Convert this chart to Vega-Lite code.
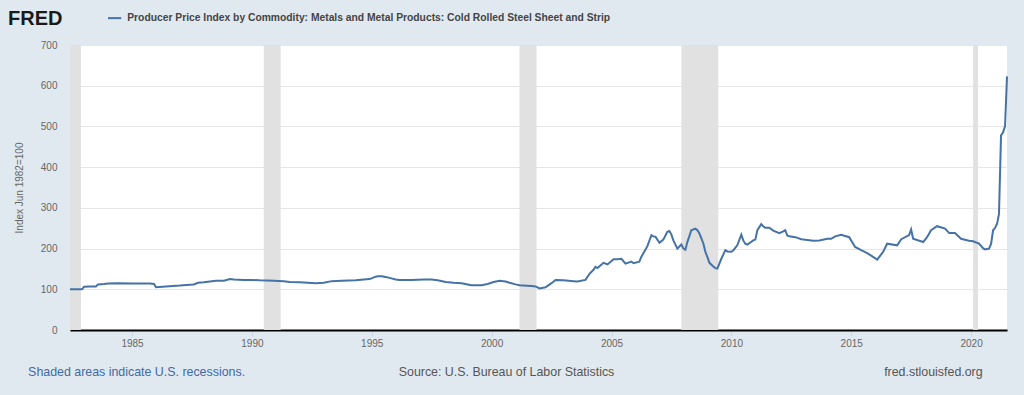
{
  "$schema": "https://vega.github.io/schema/vega-lite/v6.json",
  "width": 937,
  "height": 285,
  "autosize": {"type": "none"},
  "padding": {"left": 70, "top": 45, "right": 17, "bottom": 65},
  "background": "#e1e9f0",
  "config": {
    "view": {"fill": "#ffffff", "stroke": null},
    "font": "Liberation Sans",
    "text": {"font": "Liberation Sans"}
  },
  "layer": [
    {
      "data": {"values": [
        {"start": "1982-06-01", "end": "1982-11-15"},
        {"start": "1990-07-01", "end": "1991-03-15"},
        {"start": "2001-03-01", "end": "2001-11-15"},
        {"start": "2007-12-01", "end": "2009-06-15"},
        {"start": "2020-02-01", "end": "2020-04-15"}
      ]},
      "mark": {"type": "rect", "color": "#e1e1e1"},
      "encoding": {
        "x": {"field": "start", "type": "temporal"},
        "x2": {"field": "end"}
      }
    },
    {
      "data": {"values": [
        {"date": "1982-06-01", "value": 100},
        {"date": "1982-09-01", "value": 100},
        {"date": "1982-12-01", "value": 100},
        {"date": "1983-01-01", "value": 106},
        {"date": "1983-04-01", "value": 107},
        {"date": "1983-07-01", "value": 107},
        {"date": "1983-08-01", "value": 112},
        {"date": "1983-11-01", "value": 113},
        {"date": "1984-01-01", "value": 114},
        {"date": "1984-06-01", "value": 115},
        {"date": "1985-01-01", "value": 114},
        {"date": "1985-06-01", "value": 114},
        {"date": "1985-10-01", "value": 114},
        {"date": "1985-12-01", "value": 113},
        {"date": "1986-01-01", "value": 105},
        {"date": "1986-06-01", "value": 107},
        {"date": "1987-01-01", "value": 109},
        {"date": "1987-06-01", "value": 111},
        {"date": "1987-08-01", "value": 112},
        {"date": "1987-10-01", "value": 116},
        {"date": "1988-01-01", "value": 117},
        {"date": "1988-04-01", "value": 119},
        {"date": "1988-07-01", "value": 121},
        {"date": "1988-11-01", "value": 121},
        {"date": "1989-02-01", "value": 125},
        {"date": "1989-04-01", "value": 124},
        {"date": "1989-09-01", "value": 123},
        {"date": "1990-01-01", "value": 123},
        {"date": "1990-05-01", "value": 122},
        {"date": "1990-12-01", "value": 121},
        {"date": "1991-05-01", "value": 120},
        {"date": "1991-08-01", "value": 118},
        {"date": "1992-01-01", "value": 117},
        {"date": "1992-05-01", "value": 116},
        {"date": "1992-09-01", "value": 115},
        {"date": "1993-01-01", "value": 116},
        {"date": "1993-05-01", "value": 120},
        {"date": "1993-10-01", "value": 121},
        {"date": "1994-05-01", "value": 122},
        {"date": "1994-09-01", "value": 124},
        {"date": "1994-12-01", "value": 125},
        {"date": "1995-03-01", "value": 131},
        {"date": "1995-04-01", "value": 132},
        {"date": "1995-06-01", "value": 132},
        {"date": "1995-08-01", "value": 130},
        {"date": "1995-10-01", "value": 128},
        {"date": "1996-01-01", "value": 124},
        {"date": "1996-03-01", "value": 123},
        {"date": "1996-09-01", "value": 123},
        {"date": "1997-03-01", "value": 124},
        {"date": "1997-07-01", "value": 124},
        {"date": "1997-10-01", "value": 122},
        {"date": "1998-02-01", "value": 118},
        {"date": "1998-06-01", "value": 116},
        {"date": "1998-10-01", "value": 115},
        {"date": "1999-01-01", "value": 112},
        {"date": "1999-03-01", "value": 110},
        {"date": "1999-08-01", "value": 110},
        {"date": "1999-11-01", "value": 113},
        {"date": "2000-02-01", "value": 118},
        {"date": "2000-05-01", "value": 121},
        {"date": "2000-08-01", "value": 119},
        {"date": "2000-10-01", "value": 116},
        {"date": "2001-01-01", "value": 112},
        {"date": "2001-03-01", "value": 110},
        {"date": "2001-09-01", "value": 108},
        {"date": "2001-11-01", "value": 107},
        {"date": "2002-01-01", "value": 102},
        {"date": "2002-04-01", "value": 105},
        {"date": "2002-07-01", "value": 115},
        {"date": "2002-09-01", "value": 123},
        {"date": "2003-01-01", "value": 122},
        {"date": "2003-06-01", "value": 120},
        {"date": "2003-08-01", "value": 119},
        {"date": "2003-12-01", "value": 123},
        {"date": "2004-02-01", "value": 138},
        {"date": "2004-04-01", "value": 148},
        {"date": "2004-05-01", "value": 155},
        {"date": "2004-06-01", "value": 152},
        {"date": "2004-09-01", "value": 165},
        {"date": "2004-11-01", "value": 161},
        {"date": "2005-02-01", "value": 174},
        {"date": "2005-04-01", "value": 174},
        {"date": "2005-06-01", "value": 175},
        {"date": "2005-08-01", "value": 163},
        {"date": "2005-11-01", "value": 168},
        {"date": "2005-12-01", "value": 164},
        {"date": "2006-03-01", "value": 168},
        {"date": "2006-04-01", "value": 180},
        {"date": "2006-06-01", "value": 197},
        {"date": "2006-07-01", "value": 206},
        {"date": "2006-09-01", "value": 233},
        {"date": "2006-10-01", "value": 230},
        {"date": "2006-11-01", "value": 229},
        {"date": "2007-01-01", "value": 214},
        {"date": "2007-03-01", "value": 222},
        {"date": "2007-05-01", "value": 241},
        {"date": "2007-06-01", "value": 243},
        {"date": "2007-07-01", "value": 235},
        {"date": "2007-08-01", "value": 220},
        {"date": "2007-10-01", "value": 200},
        {"date": "2007-11-01", "value": 205},
        {"date": "2007-12-01", "value": 210},
        {"date": "2008-01-01", "value": 200},
        {"date": "2008-02-01", "value": 197},
        {"date": "2008-03-01", "value": 216},
        {"date": "2008-05-01", "value": 245},
        {"date": "2008-07-01", "value": 249},
        {"date": "2008-08-01", "value": 245},
        {"date": "2008-09-01", "value": 237},
        {"date": "2008-10-01", "value": 225},
        {"date": "2008-11-01", "value": 212},
        {"date": "2008-12-01", "value": 192},
        {"date": "2009-01-01", "value": 179},
        {"date": "2009-02-01", "value": 165},
        {"date": "2009-04-01", "value": 156},
        {"date": "2009-05-01", "value": 152},
        {"date": "2009-06-01", "value": 151},
        {"date": "2009-08-01", "value": 175},
        {"date": "2009-10-01", "value": 196},
        {"date": "2009-11-01", "value": 193},
        {"date": "2010-01-01", "value": 192},
        {"date": "2010-02-01", "value": 196},
        {"date": "2010-04-01", "value": 208},
        {"date": "2010-06-01", "value": 234},
        {"date": "2010-07-01", "value": 220},
        {"date": "2010-08-01", "value": 212},
        {"date": "2010-09-01", "value": 210},
        {"date": "2010-12-01", "value": 220},
        {"date": "2011-01-01", "value": 222},
        {"date": "2011-02-01", "value": 245},
        {"date": "2011-04-01", "value": 260},
        {"date": "2011-05-01", "value": 255},
        {"date": "2011-06-01", "value": 251},
        {"date": "2011-08-01", "value": 251},
        {"date": "2011-10-01", "value": 244},
        {"date": "2012-01-01", "value": 238},
        {"date": "2012-03-01", "value": 242},
        {"date": "2012-04-01", "value": 245},
        {"date": "2012-05-01", "value": 232},
        {"date": "2012-06-01", "value": 230},
        {"date": "2012-09-01", "value": 228},
        {"date": "2012-12-01", "value": 223},
        {"date": "2013-06-01", "value": 219},
        {"date": "2013-09-01", "value": 220},
        {"date": "2014-01-01", "value": 224},
        {"date": "2014-03-01", "value": 224},
        {"date": "2014-05-01", "value": 230},
        {"date": "2014-08-01", "value": 234},
        {"date": "2014-10-01", "value": 231},
        {"date": "2014-12-01", "value": 228},
        {"date": "2015-03-01", "value": 204},
        {"date": "2015-06-01", "value": 196},
        {"date": "2015-09-01", "value": 189},
        {"date": "2016-02-01", "value": 173},
        {"date": "2016-05-01", "value": 192},
        {"date": "2016-07-01", "value": 212},
        {"date": "2016-12-01", "value": 208},
        {"date": "2017-02-01", "value": 223},
        {"date": "2017-06-01", "value": 233},
        {"date": "2017-07-01", "value": 247},
        {"date": "2017-08-01", "value": 224},
        {"date": "2018-01-01", "value": 216},
        {"date": "2018-03-01", "value": 228},
        {"date": "2018-05-01", "value": 245},
        {"date": "2018-08-01", "value": 255},
        {"date": "2018-12-01", "value": 249},
        {"date": "2019-02-01", "value": 238},
        {"date": "2019-05-01", "value": 238},
        {"date": "2019-08-01", "value": 224},
        {"date": "2019-12-01", "value": 219},
        {"date": "2020-02-01", "value": 218},
        {"date": "2020-05-01", "value": 212},
        {"date": "2020-07-01", "value": 201},
        {"date": "2020-08-01", "value": 198},
        {"date": "2020-10-01", "value": 200},
        {"date": "2020-11-01", "value": 212},
        {"date": "2020-12-01", "value": 245},
        {"date": "2021-01-01", "value": 251},
        {"date": "2021-02-01", "value": 262},
        {"date": "2021-03-01", "value": 285},
        {"date": "2021-04-01", "value": 478},
        {"date": "2021-05-01", "value": 485},
        {"date": "2021-06-01", "value": 500},
        {"date": "2021-07-01", "value": 623}
      ]},
      "mark": {"type": "line", "color": "#4572a7", "strokeWidth": 2},
      "encoding": {
        "x": {
          "field": "date", "type": "temporal",
          "scale": {"domain": [{"year": 1982, "month": 6, "date": 1}, {"year": 2021, "month": 7, "date": 1}], "nice": false},
          "axis": {
            "title": null,
            "values": [{"year": 1985}, {"year": 1990}, {"year": 1995}, {"year": 2000}, {"year": 2005}, {"year": 2010}, {"year": 2015}, {"year": 2020}],
            "format": "%Y",
            "grid": false,
            "domainColor": "#000000",
            "domainWidth": 2,
            "tickColor": "#ccd6eb",
            "tickSize": 6,
            "labelPadding": 2,
            "labelFontSize": 10,
            "labelColor": "#666666",
            "labelFont": "Liberation Sans"
          }
        },
        "y": {
          "field": "value", "type": "quantitative",
          "scale": {"domain": [0, 700], "nice": false},
          "axis": {
            "title": "Index Jun 1982=100",
            "titleFontSize": 10,
            "titleFontWeight": "normal",
            "titleColor": "#666666",
            "titleFont": "Liberation Sans",
            "titlePadding": 16,
            "values": [0, 100, 200, 300, 400, 500, 600, 700],
            "domain": false,
            "ticks": false,
            "labelPadding": 13,
            "labelFontSize": 10,
            "labelColor": "#666666",
            "labelFont": "Liberation Sans",
            "gridColor": "#e6e6e6",
            "gridWidth": 1
          }
        }
      }
    },
    {
      "data": {"values": [{}]},
      "mark": {"type": "text", "text": "FRED", "fontSize": 20, "fontWeight": "bold", "font": "Liberation Sans", "color": "#1a1a1a", "align": "left", "baseline": "middle", "letterSpacing": -2.2},
      "encoding": {
        "x": {"datum": {"year": 1979, "month": 11, "date": 1}, "type": "temporal"},
        "y": {"datum": 765, "type": "quantitative"}
      }
    },
    {
      "data": {"values": [{}]},
      "mark": {"type": "rule", "color": "#4572a7", "strokeWidth": 2},
      "encoding": {
        "x": {"datum": {"year": 1984, "month": 1, "date": 1}, "type": "temporal"},
        "x2": {"datum": {"year": 1984, "month": 7, "date": 20}},
        "y": {"datum": 766, "type": "quantitative"}
      }
    },
    {
      "data": {"values": [{}]},
      "mark": {"type": "text", "text": "Producer Price Index by Commodity: Metals and Metal Products: Cold Rolled Steel Sheet and Strip", "fontSize": 10.3, "fontWeight": "bold", "font": "Liberation Sans", "color": "#444444", "align": "left", "baseline": "middle"},
      "encoding": {
        "x": {"datum": {"year": 1984, "month": 10, "date": 20}, "type": "temporal"},
        "y": {"datum": 766, "type": "quantitative"}
      }
    },
    {
      "data": {"values": [{}]},
      "mark": {"type": "text", "text": "Shaded areas indicate U.S. recessions.", "fontSize": 12.4, "font": "Liberation Sans", "color": "#3e6aa8", "align": "left", "baseline": "middle"},
      "encoding": {
        "x": {"datum": {"year": 1980, "month": 9, "date": 1}, "type": "temporal"},
        "y": {"datum": -104, "type": "quantitative"}
      }
    },
    {
      "data": {"values": [{}]},
      "mark": {"type": "text", "text": "Source: U.S. Bureau of Labor Statistics", "fontSize": 12.4, "font": "Liberation Sans", "color": "#555555", "align": "center", "baseline": "middle"},
      "encoding": {
        "x": {"datum": {"year": 2000, "month": 8, "date": 15}, "type": "temporal"},
        "y": {"datum": -104, "type": "quantitative"}
      }
    },
    {
      "data": {"values": [{}]},
      "mark": {"type": "text", "text": "fred.stlouisfed.org", "fontSize": 12.4, "font": "Liberation Sans", "color": "#555555", "align": "right", "baseline": "middle"},
      "encoding": {
        "x": {"datum": {"year": 2020, "month": 6, "date": 25}, "type": "temporal"},
        "y": {"datum": -104, "type": "quantitative"}
      }
    }
  ]
}
